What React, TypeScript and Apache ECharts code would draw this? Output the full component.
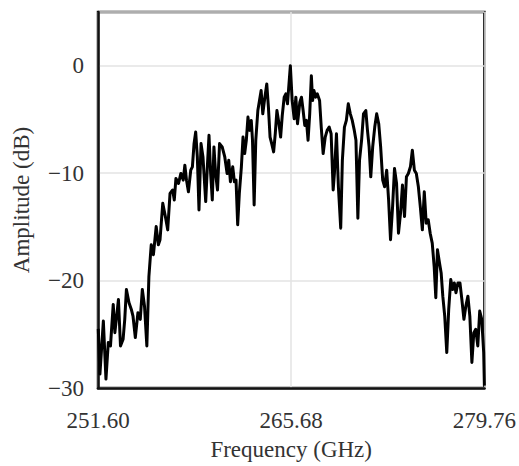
import React, { useEffect, useRef } from "react";
import * as echarts from "echarts";

const F0 = 251.6;
const xTickLabels = ["251.60", "265.68", "279.76"];
const yTicks = [-30, -20, -10, 0];

const freqGHz = [
  251.62, 251.74, 251.99, 252.18, 252.35, 252.51, 252.71, 252.83, 253.0, 253.09,
  253.24, 253.43, 253.55, 253.67, 253.86, 254.03, 254.15, 254.32, 254.51, 254.68,
  254.83, 254.99, 255.16, 255.31, 255.48, 255.64, 255.84, 256.0, 256.12, 256.32,
  256.51, 256.68, 256.85, 257.04, 257.16, 257.28, 257.47, 257.64, 257.81, 257.93,
  258.05, 258.19, 258.36, 258.48, 258.6, 258.72, 258.84, 258.96, 259.11, 259.25,
  259.45, 259.57, 259.69, 259.81, 259.93, 260.05, 260.17, 260.31, 260.46, 260.65,
  260.84, 261.01, 261.13, 261.25, 261.42, 261.54, 261.66, 261.78, 261.9, 262.05,
  262.17, 262.29, 262.41, 262.53, 262.65, 262.77, 262.86, 262.98, 263.1, 263.25,
  263.37, 263.49, 263.61, 263.73, 263.9, 264.02, 264.14, 264.26, 264.4, 264.52,
  264.64, 264.79, 264.91, 265.03, 265.17, 265.29, 265.41, 265.62,
  265.75, 265.9, 266.02, 266.14, 266.31, 266.43, 266.55, 266.67, 266.79, 266.91,
  267.03, 267.15, 267.24, 267.34, 267.46, 267.58, 267.75, 267.87, 268.01, 268.16,
  268.3, 268.45, 268.59, 268.74, 268.83, 268.98, 269.12, 269.29, 269.41, 269.56,
  269.7, 269.84, 269.99, 270.13, 270.28, 270.4, 270.54, 270.66, 270.81, 270.95,
  271.12, 271.24, 271.36, 271.48, 271.62, 271.77, 271.91, 272.06, 272.2, 272.35,
  272.49, 272.64, 272.78, 272.92, 273.07, 273.21, 273.36, 273.5, 273.65, 273.79,
  273.94, 274.08, 274.22, 274.37, 274.51, 274.66, 274.8, 274.95, 275.09, 275.24,
  275.38, 275.52, 275.67, 275.81, 275.96, 276.1, 276.22, 276.34, 276.49, 276.61,
  276.73, 276.87, 277.02, 277.16, 277.31, 277.45, 277.57, 277.69, 277.83, 277.98,
  278.12, 278.27, 278.41, 278.56, 278.7, 278.85, 278.99, 279.13, 279.28, 279.42,
  279.57, 279.71, 279.76,
];

const amplitudeDb = [
  -24.5, -28.7, -23.77, -29.17, -25.77, -26.08, -22.22, -24.85, -22.84, -21.76,
  -26.08, -25.46, -23.61, -20.83, -22.07, -22.69, -23.3, -25.31, -22.99, -23.61,
  -20.83, -22.38, -26.08, -19.6, -16.67, -17.59, -14.97, -16.67, -16.2, -12.81,
  -14.04, -15.28, -11.88, -11.57, -12.5, -10.49, -10.96, -10.03, -10.65, -9.26,
  -10.65, -11.73, -9.72, -9.41, -7.25, -6.17, -8.49, -13.43, -7.25, -8.49,
  -12.65, -9.41, -6.48, -10.03, -12.5, -7.56, -10.03, -11.57, -7.25, -7.56,
  -8.49, -10.03, -8.8, -10.8, -9.41, -10.8, -10.65, -14.81, -11.88, -9.41,
  -6.64, -8.18, -6.94, -4.78, -6.02, -5.09, -6.94, -12.96, -6.94, -4.17,
  -3.24, -2.31, -4.48, -3.24, -1.7, -3.86, -6.64, -7.25, -8.02, -6.33,
  -4.17, -5.4, -6.64, -4.63, -2.93, -2.62, -3.55, 0.0,
  -3.24, -4.94, -2.93, -5.4, -3.4, -2.93, -4.17, -5.56, -5.09, -6.94,
  -4.48, -0.93, -3.24, -2.31, -2.93, -2.62, -3.24, -5.71, -8.18, -6.64,
  -6.02, -5.71, -6.33, -11.57, -10.03, -6.33, -11.27, -15.12, -8.8, -5.71,
  -5.09, -3.55, -4.48, -5.09, -6.02, -6.94, -14.2, -8.8, -6.94, -4.48,
  -4.17, -6.02, -7.56, -10.34, -7.56, -5.71, -4.48, -5.4, -7.56, -10.65,
  -11.27, -9.72, -12.5, -16.2, -13.12, -9.57, -10.96, -15.59, -13.73, -11.11,
  -14.04, -10.34, -10.03, -9.41, -7.87, -9.72, -10.03, -11.27, -13.12, -15.28,
  -11.73, -14.66, -14.35, -15.59, -16.51, -18.67, -21.6, -17.13, -18.36, -19.29,
  -21.45, -23.3, -26.7, -22.69, -19.91, -20.83, -20.22, -21.14, -20.22, -20.22,
  -21.76, -23.61, -22.38, -21.45, -23.3, -27.62, -24.85, -24.54, -26.08, -22.84,
  -23.61, -26.7, -29.78,
];

const FONT = "'Liberation Serif', 'Times New Roman', serif";

export default function App() {
  const ref = useRef<HTMLDivElement>(null);
  useEffect(() => {
    document.body.style.margin = "0";
    if (!ref.current) return;
    const chart = echarts.init(ref.current, undefined, { renderer: "svg" });
    const span = parseFloat(xTickLabels[2]) - parseFloat(xTickLabels[0]);
    const data = freqGHz.map((f, i) => [f - F0, amplitudeDb[i]]);
    chart.setOption({
      animation: false,
      backgroundColor: "#ffffff",
      grid: {
        left: 98,
        top: 12,
        right: 31,
        bottom: 78,
        show: true,
        borderColor: "#111",
        borderWidth: 2.5,
        backgroundColor: "transparent",
      },
      xAxis: {
        type: "value",
        min: 0,
        max: span,
        interval: span / 2,
        name: "Frequency (GHz)",
        nameLocation: "middle",
        nameGap: 50,
        nameTextStyle: { fontFamily: FONT, fontSize: 23, color: "#333" },
        axisLine: { show: true, onZero: false, lineStyle: { color: "#111", width: 2.5 } },
        axisTick: { show: false },
        axisLabel: {
          margin: 21,
          fontFamily: FONT,
          fontSize: 23,
          color: "#333",
          formatter: (v: number) => (v + F0).toFixed(2),
        },
        splitLine: { show: true, lineStyle: { color: "#e3e3e3", width: 1.5 } },
      },
      yAxis: {
        type: "value",
        min: yTicks[0],
        max: 5,
        interval: 10,
        name: "Amplitude (dB)",
        nameLocation: "middle",
        nameGap: 65,
        nameTextStyle: { fontFamily: FONT, fontSize: 23, color: "#333" },
        axisLine: { show: true, onZero: false, lineStyle: { color: "#111", width: 2.5 } },
        axisTick: { show: false },
        axisLabel: {
          margin: 14,
          fontFamily: FONT,
          fontSize: 23,
          color: "#333",
          formatter: (v: number) =>
            yTicks.includes(v) ? (v < 0 ? "\u2212" + Math.abs(v) : String(v)) : "",
        },
        splitLine: { show: true, lineStyle: { color: "#e3e3e3", width: 1.5 } },
      },
      series: [
        {
          type: "line",
          data,
          showSymbol: false,
          symbol: "none",
          lineStyle: { color: "#000", width: 3, join: "round" },
          clip: true,
        },
      ],
    });
    return () => chart.dispose();
  }, []);
  return <div ref={ref} style={{ width: 519, height: 466 }} />;
}
